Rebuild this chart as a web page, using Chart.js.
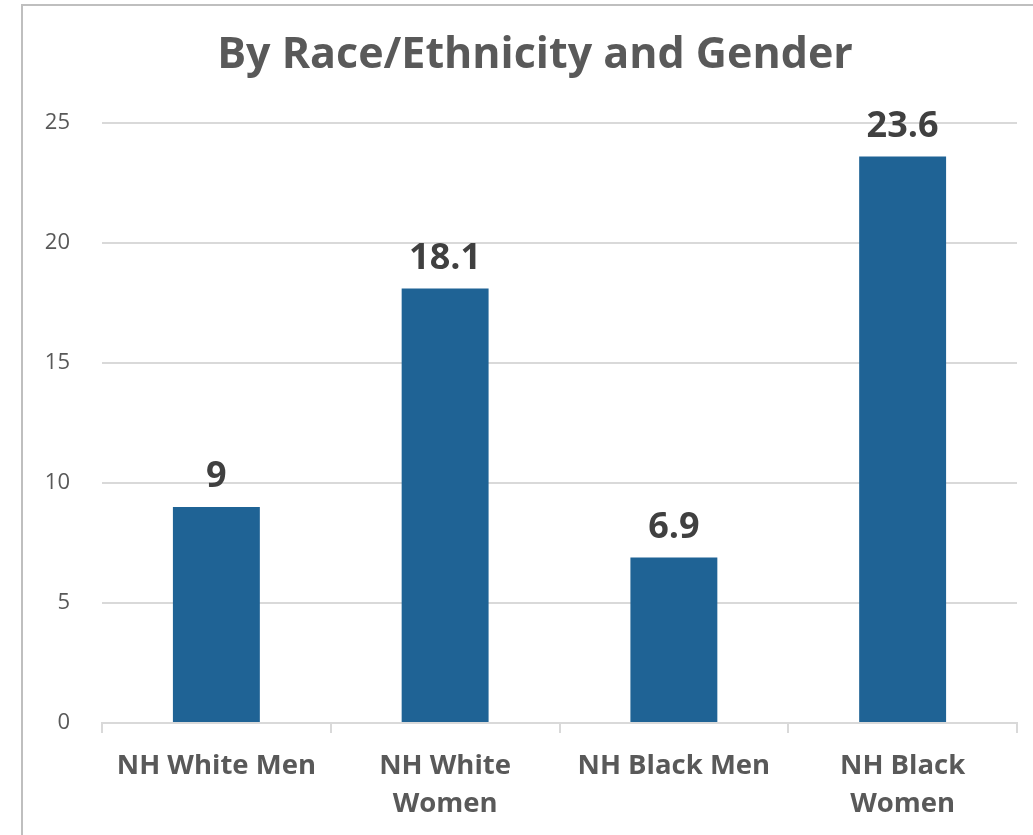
<!DOCTYPE html>
<html>
<head>
<meta charset="utf-8">
<script src="https://cdn.jsdelivr.net/npm/chart.js@4"></script>
<style>
  html, body { margin: 0; padding: 0; background: #fff; }
  #wrap { position: relative; width: 1033px; height: 835px; overflow: hidden; }
  #frame { position: absolute; left: 21px; top: 4px; width: 1100px; height: 1000px; border: 2px solid #bfbfbf; box-sizing: border-box; }
  canvas { position: absolute; left: 0; top: 0; }
</style>
</head>
<body>
<div id="wrap">
  <div id="frame"></div>
  <canvas id="chart" width="1033" height="835"></canvas>
</div>
<script>
// Chart data
const chartTitle = 'By Race/Ethnicity and Gender';
const categories = [['NH White Men'], ['NH White', 'Women'], ['NH Black Men'], ['NH Black', 'Women']];
const values = [9, 18.1, 6.9, 23.6];
const yTicks = [0, 5, 10, 15, 20, 25];

const FONT = "'Open Sans', 'DejaVu Sans', sans-serif";
const TEXT = '#595959';
const GRID = '#d9d9d9';

// Title centred on the framed area rather than the canvas
const frameTitle = {
  id: 'frameTitle',
  afterDraw(chart) {
    const ctx = chart.ctx;
    ctx.save();
    ctx.font = 'bold 43px ' + FONT;
    ctx.fillStyle = TEXT;
    ctx.textAlign = 'center';
    ctx.textBaseline = 'middle';
    ctx.fillText(chartTitle, 535, 56);
    ctx.restore();
  }
};

// Draws value labels above each bar
const valueLabels = {
  id: 'valueLabels',
  afterDatasetsDraw(chart) {
    const ctx = chart.ctx;
    const meta = chart.getDatasetMeta(0);
    ctx.save();
    ctx.font = 'bold 36px ' + FONT;
    ctx.fillStyle = '#404040';
    ctx.textAlign = 'center';
    ctx.textBaseline = 'bottom';
    meta.data.forEach((bar, i) => {
      ctx.fillText(String(values[i]), bar.x, bar.y - 12);
    });
    ctx.restore();
  }
};

Chart.defaults.font.family = FONT;
Chart.defaults.color = TEXT;

new Chart(document.getElementById('chart').getContext('2d'), {
  type: 'bar',
  data: {
    labels: categories,
    datasets: [{
      data: values,
      backgroundColor: '#1f6395',
      categoryPercentage: 1,
      barPercentage: 0.38
    }]
  },
  options: {
    responsive: false,
    animation: false,
    layout: { padding: { left: 0, right: 16, top: 123, bottom: 0 } },
    plugins: {
      legend: { display: false },
      tooltip: { enabled: false },
      title: { display: false }
    },
    scales: {
      x: {
        afterFit: (s) => { s.height = 112; },
        border: { color: GRID, width: 2 },
        grid: { offset: true, drawOnChartArea: false, drawTicks: true, tickLength: 10, color: GRID, lineWidth: 2 },
        ticks: { color: TEXT, padding: 14, font: { size: 27.5, weight: 'bold', lineHeight: 1.38 }, maxRotation: 0, autoSkip: false }
      },
      y: {
        min: 0,
        max: 25,
        afterFit: (s) => { s.width = 102; },
        afterBuildTicks: (s) => { s.ticks = yTicks.map(v => ({ value: v })); },
        border: { display: false },
        grid: { color: GRID, lineWidth: 2, drawTicks: false },
        ticks: { color: TEXT, padding: 32, font: { size: 22 } }
      }
    }
  },
  plugins: [valueLabels, frameTitle]
});
</script>
</body>
</html>
